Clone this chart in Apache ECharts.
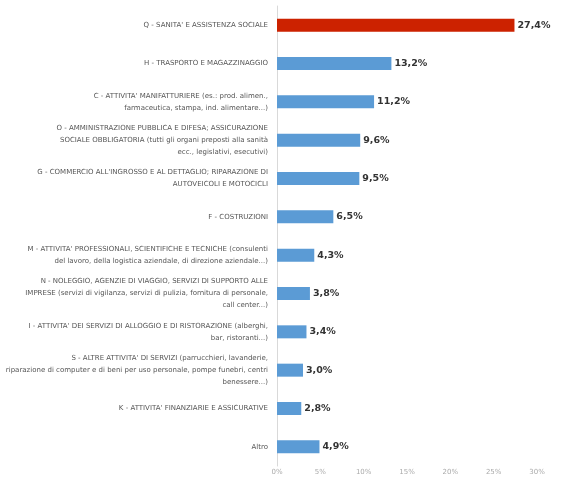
<!DOCTYPE html>
<html><head><meta charset="utf-8">
<script src="https://cdn.jsdelivr.net/npm/echarts@6/dist/echarts.min.js"></script>
<style>html,body{margin:0;padding:0;background:#fff}#c{width:561px;height:478px}</style>
</head><body><div id="c"></div>
<script>
const categories = [
  "Q - SANITA' E ASSISTENZA SOCIALE",
  "H - TRASPORTO E MAGAZZINAGGIO",
  "C - ATTIVITA' MANIFATTURIERE (es.: prod. alimen.,\nfarmaceutica, stampa, ind. alimentare...)",
  "O - AMMINISTRAZIONE PUBBLICA E DIFESA; ASSICURAZIONE\nSOCIALE OBBLIGATORIA (tutti gli organi preposti alla sanità\necc., legislativi, esecutivi)",
  "G - COMMERCIO ALL'INGROSSO E AL DETTAGLIO; RIPARAZIONE DI\nAUTOVEICOLI E MOTOCICLI",
  "F - COSTRUZIONI",
  "M - ATTIVITA' PROFESSIONALI, SCIENTIFICHE E TECNICHE (consulenti\ndel lavoro, della logistica aziendale, di direzione aziendale...)",
  "N - NOLEGGIO, AGENZIE DI VIAGGIO, SERVIZI DI SUPPORTO ALLE\nIMPRESE (servizi di vigilanza, servizi di pulizia, fornitura di personale,\ncall center...)",
  "I - ATTIVITA' DEI SERVIZI DI ALLOGGIO E DI RISTORAZIONE (alberghi,\nbar, ristoranti...)",
  "S - ALTRE ATTIVITA' DI SERVIZI (parrucchieri, lavanderie,\nriparazione di computer e di beni per uso personale, pompe funebri, centri\nbenessere...)",
  "K - ATTIVITA' FINANZIARIE E ASSICURATIVE",
  "Altro"
];
const values = [27.4, 13.2, 11.2, 9.6, 9.5, 6.5, 4.3, 3.8, 3.4, 3.0, 2.8, 4.9];
const highlightIndex = 0;
const xTicks = [0, 5, 10, 15, 20, 25, 30];

const chart = echarts.init(document.getElementById('c'));
chart.setOption({
  animation: false,
  grid: { left: 277, right: 24, top: 6, bottom: 12 },
  xAxis: {
    type: 'value', min: 0, max: 30, interval: 5,
    axisLine: { show: false }, axisTick: { show: false },
    splitLine: { show: false },
    axisLabel: { fontSize: 7, color: '#aaa', margin: 3, fontFamily: 'DejaVu Sans',
      formatter: v => v + '%' }
  },
  yAxis: {
    type: 'category', inverse: true, data: categories,
    axisLine: { show: true, lineStyle: { color: '#d9d9d9', width: 1 } },
    axisTick: { show: false },
    axisLabel: { fontSize: 7, color: '#555', lineHeight: 12, margin: 9, align: 'right',
      fontFamily: 'DejaVu Sans' }
  },
  series: [{
    type: 'bar', barWidth: 13,
    data: values.map((v, i) => ({ value: v,
      itemStyle: { color: i === highlightIndex ? '#cc2200' : '#5b9bd5' } })),
    label: { show: true, position: 'right', distance: 3, fontSize: 9.5, fontWeight: 'bold',
      color: '#333', fontFamily: 'DejaVu Sans',
      formatter: p => p.value.toFixed(1).replace('.', ',') + '%' }
  }]
});
</script></body></html>
